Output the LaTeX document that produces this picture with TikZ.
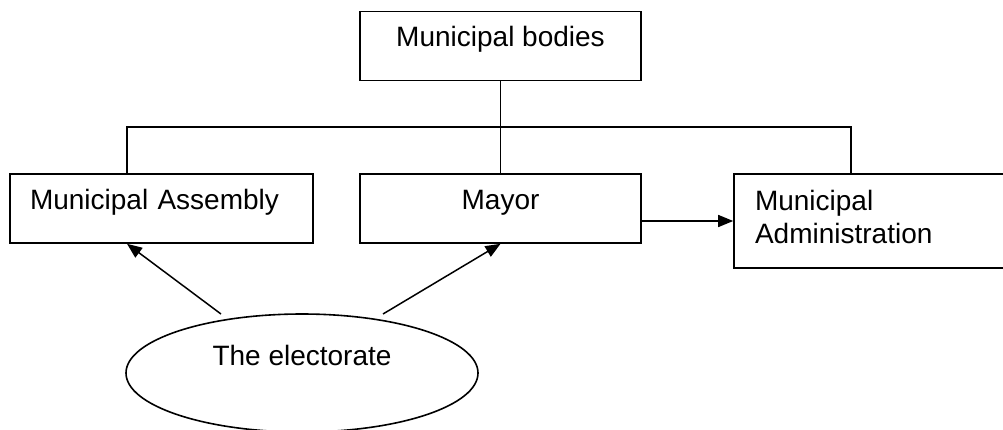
\documentclass[tikz,border=0pt]{standalone}
\usepackage{fontspec}
\setmainfont{Liberation Sans}
\usetikzlibrary{arrows.meta,shapes.geometric}

\tikzset{
  orgbox/.style={draw, line width=1.6pt, inner ysep=0pt, text height=35pt, text depth=34pt},
  link/.style={line width=1.5pt},
  elect/.style={link, -{Triangle[length=15pt,width=12pt]}}
}

\begin{document}
\begin{tikzpicture}[x=1pt, y=-1pt, font=\fontsize{28pt}{33pt}\selectfont]
             \useasboundingbox (0,0) rectangle (1003,429);
             \clip (0,0) rectangle (1003,429);

             \node[orgbox, inner xsep=0pt, minimum width=281pt] (bodies) at (500.5, 46) {Municipal bodies};
             \node[orgbox, inner xsep=20pt, text width=263pt, align=left] (asm) at (161.5, 208.5) {Municipal Assembly};
             \node[orgbox, inner xsep=0pt, minimum width=281pt] (mayor) at (500.5, 208.5) {Mayor};
             \node[orgbox, inner xsep=21pt, text width=260pt, align=left, text height=36pt, text depth=58pt] (admin) at (885, 221) {Municipal\\Administration};
             \node[ellipse, draw, line width=1.6pt, inner sep=0pt, minimum width=352pt, minimum height=118pt, text height=20pt, text depth=36pt] (voters) at (302, 373) {The electorate};

             % tree below the top box
             \coordinate (lbus) at (127, 127);
             \coordinate (rbus) at (851, 127);
             \draw[link] (bodies.south) -- (mayor.north);
             \draw[link] (asm.north -| lbus) -- (lbus) -- (rbus) -- (admin.north -| rbus);

             \draw[elect] (mayor.east |- admin.west) -- (admin.west);

             \coordinate (v1) at (221, 314);
             \coordinate (v2) at (383, 314);
             \draw[elect] (v1) -- (asm.south -| lbus);
             \draw[elect] (v2) -- (mayor.south);
\end{tikzpicture}
\end{document}
